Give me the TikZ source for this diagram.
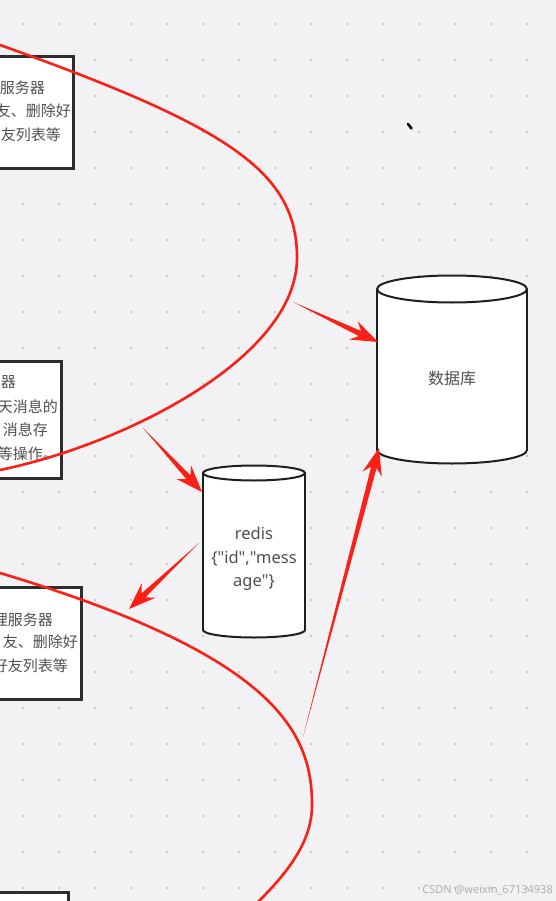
\documentclass[tikz,border=0pt]{standalone}
\usepackage{fontspec}
\setmainfont{Noto Sans CJK SC}
\newfontfamily\latinfont{Noto Sans}
\usetikzlibrary{calc}
\definecolor{bg}{RGB}{242,242,245}
\definecolor{dotc}{RGB}{200,200,204}
\definecolor{arrowred}{RGB}{250,32,22}
\definecolor{txt}{RGB}{80,80,80}
\definecolor{boxline}{RGB}{45,45,45}
\definecolor{wm}{RGB}{175,175,178}
\newcommand\tarrow[2]{%
  \fill[arrowred] (#1)
    -- ($(#2)!20pt!(#1)!2.8pt!90:(#1)$)
    -- ($(#2)!27pt!(#1)!10pt!90:(#1)$)
    -- (#2)
    -- ($(#2)!27pt!(#1)!10pt!-90:(#1)$)
    -- ($(#2)!20pt!(#1)!2.8pt!-90:(#1)$)
    -- cycle;}
\newcommand\cylbody[5]{% cx, ytop, ybot, rx, ry
  \fill[white] (#1-#4,#2) rectangle (#1+#4,#3);
  \fill[white] (#1,#3) ellipse [x radius=#4pt, y radius=#5pt];
  \fill[white] (#1,#2) ellipse [x radius=#4pt, y radius=#5pt];
  \draw[cylline] (#1-#4,#2) -- (#1-#4,#3);
  \draw[cylline] (#1+#4,#2) -- (#1+#4,#3);
  \begin{scope}
    \clip (#1-#4-4,#3) rectangle (#1+#4+4,#3+#5+4);
    \draw[cylline] (#1,#3) ellipse [x radius=#4pt, y radius=#5pt];
  \end{scope}
  \draw[cylline] (#1,#2) ellipse [x radius=#4pt, y radius=#5pt];}
\begin{document}
\begin{tikzpicture}[x=1pt,y=-1pt,
  panel/.style={draw=boxline, line width=2.8pt, fill=white, inner sep=0pt},
  boxtext/.style={text=txt, inner sep=0pt, font=\fontsize{15pt}{17pt}\selectfont},
  cyltext/.style={text=txt, inner sep=0pt, font=\latinfont\fontsize{16.5pt}{23.5pt}\selectfont},
  cylline/.style={draw=black!88, line width=2pt},
  redcurve/.style={draw=arrowred, line width=2.6pt},
]
\useasboundingbox (0,0) rectangle (556,901);
\clip (0,0) rectangle (556,901);
\fill[bg] (0,0) rectangle (556,901);
% dot grid
\foreach \i in {0,...,14}
  \foreach \j in {0,...,24}
    \fill[dotc] (23+36*\i-1.4,24+36*\j-1.4) rectangle (23+36*\i+1.4,24+36*\j+1.4);

% boxes
\node[panel, anchor=north east, minimum width=100pt, minimum height=112pt] (box1) at (75,55) {};
\node[panel, anchor=north east, minimum width=100pt, minimum height=117pt] (box2) at (63,360) {};
\node[panel, anchor=north east, minimum width=110pt, minimum height=112pt] (box3) at (83,586) {};
\node[panel, anchor=north east, minimum width=100pt, minimum height=60pt] (box4) at (70,891) {};

\node[boxtext, anchor=east] (b1a) at (45,88) {服务器};
\node[boxtext, anchor=east] (b1b) at (71,111) {友、删除好};
\node[boxtext, anchor=east] (b1c) at (61,135) {友列表等};

\node[boxtext, anchor=east] (b2a) at (16,382) {器};
\node[boxtext, anchor=east] (b2b) at (58,407) {天消息的};
\node[boxtext, anchor=east] (b2c) at (48,430) {消息存};
\node[boxtext, anchor=east] (b2d) at (58,454) {等操作。};

\node[boxtext, anchor=east] (b3a) at (53,620) {理服务器};
\node[boxtext, anchor=east] (b3b) at (78,642) {友、删除好};
\node[boxtext, anchor=east] (b3c) at (68,666) {好友列表等};

% cylinders
\cylbody{254}{473}{630}{51}{7.5}
\node[cyltext, align=center] (redis) at (254,559) {redis\\\{"id","mess\\age"\}};
\cylbody{452}{289}{450}{75}{13.5}
\node[boxtext, font=\fontsize{16pt}{19pt}\selectfont] (db) at (452,378) {数据库};

% small black tick
\draw[black, line width=2.6pt, line cap=round] (408,124) -- (411.5,128.5);

% red curves
\draw[redcurve] (-30,35) -- (0,45) .. controls (230,127) and (297,172) .. (297,258)
  .. controls (297,358) and (124,444.5) .. (0,470) -- (-40,478);
\draw[redcurve] (-30,564) -- (0,573) .. controls (277,656) and (312,733) .. (312,805)
  .. controls (312,840) and (290,870) .. (259,901) -- (240,922);

% arrows
\coordinate (t1) at (293,302);
\coordinate (h1) at (378,342);
\coordinate (t2) at (143,428);
\coordinate (h2) at (202,492);
\coordinate (t3) at (199,543);
\coordinate (h3) at (129,609);
\coordinate (t4) at (303,737);
\coordinate (h4) at (379,448);
\tarrow{t1}{h1}
\tarrow{t2}{h2}
\tarrow{t3}{h3}
\tarrow{t4}{h4}

% watermark
\node[text=wm, inner sep=0pt, anchor=east, font=\latinfont\fontsize{11pt}{13pt}\selectfont] (wmk) at (553,890) {CSDN @weixin\_67134938};
\end{tikzpicture}
\end{document}
